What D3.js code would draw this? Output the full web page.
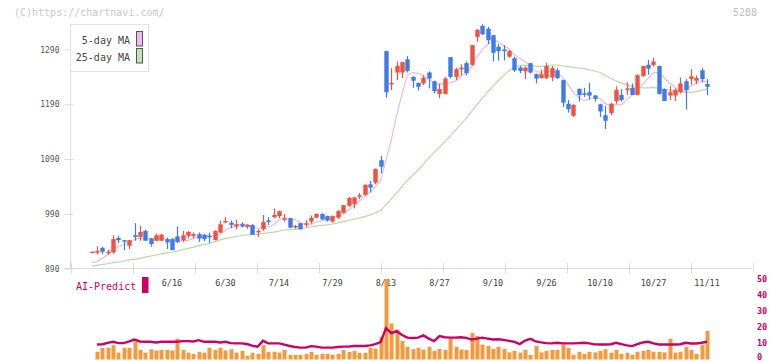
<!DOCTYPE html>
<html><head><meta charset="utf-8">
<script src="https://cdn.jsdelivr.net/npm/d3@7/dist/d3.min.js"></script>
<style>
html,body{margin:0;padding:0;background:#fff;}
svg{display:block;}
text{font-family:"DejaVu Sans Mono",monospace;}
</style></head>
<body><svg id="c" width="772" height="361"></svg>
<script>
// ---------- data ----------
const opens = [919,920,928,920,920,946,942,932,951,948,959,945,941,941,944,944,949,942,950,950,953,952,950,942,956,976,974,967,971,966,970,957,962,978,984,986,981,982,966,973,972,976,983,990,986,976,983,992,1005,1008,1022,1025,1044,1047,1088,1287,1227,1248,1248,1272,1240,1229,1228,1248,1232,1209,1209,1276,1240,1254,1265,1262,1313,1333,1328,1316,1295,1290,1277,1274,1257,1250,1265,1245,1238,1238,1239,1252,1234,1191,1169,1218,1210,1212,1206,1190,1170,1174,1196,1207,1217,1220,1207,1242,1262,1262,1260,1218,1206,1206,1212,1232,1236,1233,1252,1227];
const highs = [921,931,930,925,951,950,942,942,973,968,961,946,954,954,947,946,967,959,959,956,956,953,956,960,978,984,978,979,975,971,971,962,988,984,1000,996,990,983,970,973,979,987,991,991,987,987,997,1006,1021,1021,1028,1044,1050,1073,1096,1288,1256,1268,1267,1278,1241,1230,1243,1250,1233,1228,1240,1276,1257,1263,1268,1298,1327,1336,1331,1317,1300,1298,1289,1277,1260,1259,1266,1246,1253,1266,1260,1256,1235,1198,1190,1219,1220,1229,1207,1191,1187,1193,1223,1218,1230,1228,1245,1260,1271,1275,1260,1219,1223,1219,1239,1236,1254,1243,1256,1236];
const lows = [919,916,917,915,917,937,924,926,941,941,941,930,940,941,926,924,937,939,945,945,939,940,937,942,955,973,964,962,965,963,952,948,959,970,982,982,976,964,963,962,966,972,982,979,976,974,981,991,1003,1000,1017,1023,1029,1044,1064,1202,1216,1234,1238,1248,1220,1215,1225,1219,1210,1201,1208,1237,1234,1243,1243,1260,1304,1316,1300,1268,1270,1270,1275,1249,1247,1236,1246,1228,1237,1236,1232,1236,1185,1175,1167,1195,1203,1199,1195,1167,1145,1170,1191,1195,1207,1207,1206,1240,1244,1258,1208,1196,1198,1196,1210,1180,1226,1227,1230,1207];
const closes = [921,922,921,921,944,942,940,942,948,957,941,935,951,952,938,924,939,951,957,953,945,944,948,959,971,977,970,971,967,970,952,959,975,977,988,995,982,965,968,962,973,983,990,980,978,986,995,1006,1019,1020,1024,1043,1038,1072,1076,1212,1229,1260,1267,1251,1233,1222,1238,1237,1214,1218,1237,1240,1254,1257,1247,1298,1326,1318,1307,1284,1287,1287,1287,1252,1251,1257,1248,1237,1245,1260,1256,1238,1193,1181,1189,1207,1209,1206,1200,1177,1160,1191,1216,1198,1219,1207,1243,1260,1255,1268,1209,1196,1212,1216,1228,1216,1241,1238,1236,1222];
const ma5 = [901,903,909,916,925.8,930,933.6,937.8,943.2,945.8,945.6,944.6,946.4,947.2,943.4,940,940.8,940.8,941.8,944.8,949,950,949.4,949.8,953.4,959.8,965,969.6,971.2,971,966,963.8,964.6,966.6,970.2,978.8,983.4,981.4,979.6,974.4,970,970.2,975.2,977.6,980.8,983.4,985.8,989,996.8,1005.2,1012.8,1022.4,1028.8,1039.4,1050.6,1088.2,1125.4,1169.8,1208.8,1243.8,1248,1246.6,1242.2,1236.2,1228.8,1225.8,1228.8,1229.2,1232.6,1241.2,1247,1259.2,1276.4,1289.2,1299.2,1306.6,1304.4,1296.6,1291.2,1280.2,1273.6,1267.6,1259.8,1249.8,1248.4,1250.2,1250,1248,1239.2,1226.4,1212.2,1202.4,1196.6,1199.2,1203,1200.6,1191.2,1187.6,1189.6,1189.2,1197.6,1207,1217.4,1226.2,1237.6,1247.4,1247.8,1238.4,1228.8,1221,1213,1214.4,1223.4,1228.6,1232.6,1231.4];
const ma25 = [895,896,898,899,901,902,904,906,907,909,911,913,915,917,919,920,922,925,927,929,932,934,936,939,942.6,944.9,946.8,948.8,950.6,951.7,952.1,952.8,954.2,955.3,956.6,958.7,960.6,961.2,961.8,962.8,964.7,966.5,968,969,970,971.6,973.6,976,978.4,980.3,982.2,985.1,987.8,992,996.2,1006.6,1017.4,1028.8,1040.4,1051,1060.5,1070.1,1081,1091.8,1101.8,1111.6,1121.8,1131.8,1142.8,1153.9,1164.4,1176.5,1189.3,1201.2,1212.7,1223.1,1232.9,1242.8,1251.4,1258.5,1260,1261.2,1260.7,1259.5,1259.2,1260.3,1261.7,1261.7,1259.9,1258.6,1257.4,1256.2,1255,1253.1,1250.8,1248,1242.5,1237.1,1233,1228.6,1226,1222.8,1221.1,1220,1220.1,1220.8,1218.9,1216.8,1215.8,1214.6,1213.4,1211.8,1211.9,1213.7,1215.9,1217.2];
const volume = [0,4.8,7.3,7.3,8.9,4.2,7.3,7.3,11,6,4.2,6.4,5.6,6,6,5.6,12.9,6,4.2,3.5,4.8,4.2,7.3,6,7.3,5.6,6.4,4.2,5.4,2.3,4.2,3.5,8.9,4.8,4.8,4.2,6,2.9,2.9,2.9,3.5,4.8,2.9,3.5,3.5,2.9,3.5,6,4.8,5.4,4.2,4.2,7.1,6.8,13.9,50,22.4,18.6,11.6,7.9,6.4,7.3,6.2,7.9,5.4,6.6,6,13,7.9,6.2,6,16.6,14.7,9.3,8.5,6.6,7.9,6.6,4.4,5.4,4.2,6,2.9,8.5,4.4,5.4,6,6,9.3,7.3,2.9,4.8,3.5,4.8,4.4,5.4,6.4,4.2,6,3.5,4.2,2.9,4.8,5.4,6,4.8,4.8,4.4,12.9,4.2,4.8,7.9,6,3.5,9.1,17.8];
const aiPredict = [null,9.3,9.5,10.3,11,10.2,10.2,11.2,12.4,11.2,11,11,10.6,11,11,11,11,11.4,11.4,11.2,12,11,11,11,10.6,11,10.2,10,10,9.6,8.6,7.9,11.6,10,10,10,9.2,8.4,7.8,7.4,7.4,8.3,8,7.4,7.4,7.4,7.8,8,8,8.4,8.4,8.4,8.8,9.5,10.8,19.5,16.4,17.6,15.2,13.6,13.4,13.6,15,13,11.4,14.5,13.8,13.6,13.6,13.8,13.4,12.4,13,13.6,13,12.4,12.6,12.2,11.6,11,9.6,11.8,12.8,11.2,10.6,10.2,10,10.4,10,10,10,10.2,10.4,10,9.4,9.3,9.3,9.5,10.4,9.6,8.8,8.3,9.6,10.6,11,10,9.3,9.3,9.3,9.3,9.5,10.4,9.9,9.9,10.4,11];
const dateLabels = ["6/16","6/30","7/14","7/29","8/13","8/27","9/10","9/26","10/10","10/27","11/11"];
const dateIndex = [15,25,35,45,55,65,75,85,95,105,115];
const priceTicks = [890,990,1090,1190,1290];
const lowerTicks = [0,10,20,30,40,50];
const legendItems = ["5-day MA","25-day MA"];

// ---------- scales ----------
const svg = d3.select("#c");
const N = closes.length;
const x = d3.scaleLinear().domain([0, N-1]).range([91.7, 707]);
const y = d3.scaleLinear().domain([890, 1290]).range([268.7, 49.5]);
const yl = d3.scaleLinear().domain([0, 50]).range([359.5, 279]);
const grid = d3.scaleLinear().domain([0, 11]).range([70.5, 752.5]);
const idx = d3.range(N);

const RED = "#f05241", BLUE = "#3f7ae9", GRID = "#dcdcdc";

// header texts
svg.append("text").attr("x", 14).attr("y", 16).attr("font-size", 10).attr("fill", "#c8c8c8").text("(C)https://chartnavi.com/");
svg.append("text").attr("x", 757).attr("y", 16).attr("font-size", 10).attr("fill", "#bdbdbd").attr("text-anchor", "end").text("5288");

// axes lines
svg.append("line").attr("x1", 70.5).attr("x2", 70.5).attr("y1", 24).attr("y2", 268.5).attr("stroke", GRID);
svg.append("line").attr("x1", 64).attr("x2", 752.5).attr("y1", 268.5).attr("y2", 268.5).attr("stroke", GRID);
svg.append("g").selectAll("line").data(d3.range(12)).join("line")
  .attr("x1", d => Math.round(grid(d)) + 0.5).attr("x2", d => Math.round(grid(d)) + 0.5)
  .attr("y1", 263).attr("y2", 273.5).attr("stroke", GRID);

// y axis via d3 axis
const yAxis = d3.axisLeft(y).tickValues(priceTicks).tickSize(6).tickPadding(5).tickFormat(d3.format("d"));
const gy = svg.append("g").attr("transform", "translate(70.5,0)").call(yAxis);
gy.select(".domain").remove();
gy.selectAll(".tick line").attr("stroke", GRID).attr("x2", -6).attr("x1", 3);
gy.selectAll(".tick text").attr("font-family", "'DejaVu Sans Mono',monospace").attr("font-size", 8).attr("fill", "#555");

// MA lines
const lineP = v => d3.line().x(i => x(i)).y(i => y(v[i]));
svg.append("path").attr("d", lineP(ma25)(idx)).attr("fill", "none").attr("stroke", "#b5dca2").attr("stroke-width", 1.2);
svg.append("path").attr("d", lineP(ma5)(idx)).attr("fill", "none").attr("stroke", "#ebb8eb").attr("stroke-width", 1.2);

// candles
const bw = 4.4;
const cg = svg.append("g").selectAll("g").data(idx).join("g");
cg.append("line")
  .attr("x1", i => Math.round(x(i)) + 0.5).attr("x2", i => Math.round(x(i)) + 0.5)
  .attr("y1", i => y(highs[i])).attr("y2", i => y(lows[i]))
  .attr("stroke", i => closes[i] >= opens[i] ? RED : BLUE).attr("stroke-width", 1.2);
cg.append("rect")
  .attr("x", i => Math.round(x(i)) + 0.5 - bw/2)
  .attr("width", bw)
  .attr("y", i => y(Math.max(opens[i], closes[i])))
  .attr("height", i => Math.max(1.5, Math.abs(y(opens[i]) - y(closes[i]))))
  .attr("fill", i => closes[i] >= opens[i] ? RED : BLUE);

// legend
const lg = svg.append("g");
lg.append("rect").attr("x", 70.5).attr("y", 24.5).attr("width", 78).attr("height", 47).attr("fill", "#fff").attr("stroke", "#e2e2e2");
const swCol = ["#f0baf0", "#c4e2b4"];
legendItems.forEach((t, k) => {
  lg.append("text").attr("x", 130).attr("y", 44 + k*17).attr("text-anchor", "end").attr("font-size", 10).attr("fill", "#444").text(t);
  lg.append("rect").attr("x", 136.5).attr("y", 31.5 + k*17).attr("width", 6).attr("height", 14.5).attr("fill", swCol[k]).attr("stroke", "#555");
});

// date labels
svg.append("g").selectAll("text").data(dateIndex).join("text")
  .attr("x", i => x(i)).attr("y", 285.5).attr("text-anchor", "middle")
  .attr("font-size", 8.5).attr("fill", "#444").text((i, k) => dateLabels[k]);

// lower panel: volume bars
svg.append("g").selectAll("rect").data(idx.filter(i => volume[i] > 0)).join("rect")
  .attr("x", i => Math.round(x(i)) + 0.5 - 2).attr("width", 4)
  .attr("y", i => yl(Math.min(volume[i], 50))).attr("height", i => yl(0) - yl(Math.min(volume[i], 50)))
  .attr("fill", "#f39a3f");

// AI-Predict line
svg.append("path")
  .attr("d", d3.line().defined(i => aiPredict[i] != null).x(i => x(i)).y(i => yl(aiPredict[i]))(idx))
  .attr("fill", "none").attr("stroke", "#cc0066").attr("stroke-width", 2.4);

// AI legend
svg.append("text").attr("x", 76).attr("y", 290).attr("font-size", 10).attr("fill", "#cc0066").text("AI-Predict");
svg.append("rect").attr("x", 142).attr("y", 277).attr("width", 6.5).attr("height", 16).attr("fill", "#cc0066");

// right axis (lower)
svg.append("g").selectAll("text").data(lowerTicks).join("text")
  .attr("x", 757).attr("y", d => Math.min(yl(d) + 3, 360)).attr("font-size", 8.5).attr("font-weight", "bold")
  .attr("fill", "#cc0066").text(d => d);
</script>
</body></html>
